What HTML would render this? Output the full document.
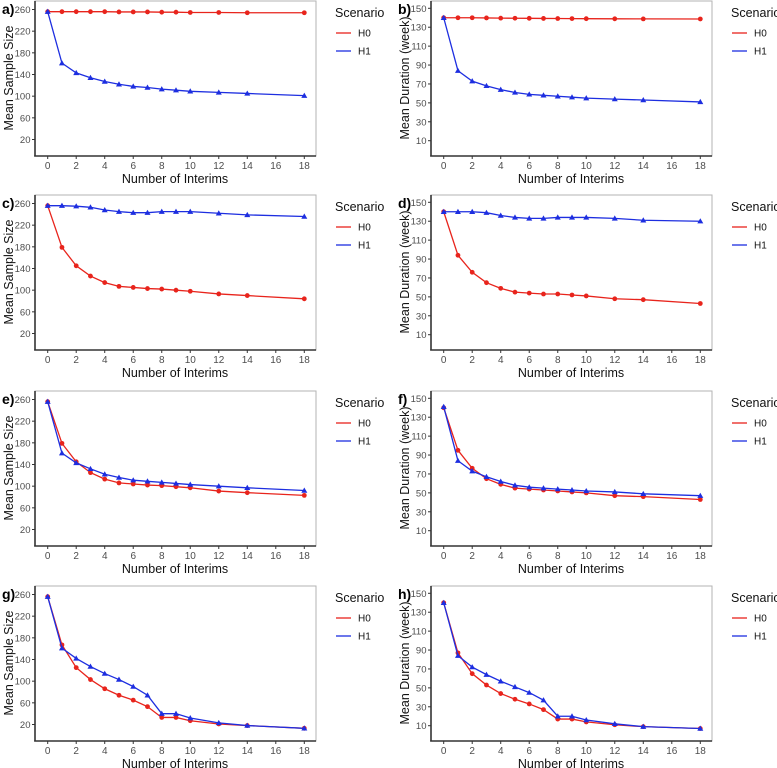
<!DOCTYPE html>
<html><head><meta charset="utf-8"><style>
body{margin:0;background:#fff;}
svg{display:block;font-family:"Liberation Sans",Arial,sans-serif;}
</style></head><body>
<svg id="chart" width="777" height="768"></svg>
<script>
const interims=[0,1,2,3,4,5,6,7,8,9,10,12,14,18];
const xTicks=[0,2,4,6,8,10,12,14,16,18];
const sizeTicks=[20,60,100,140,180,220,260];
const durTicks=[10,30,50,70,90,110,130,150];
const aH0=[256,256,256,256,256,255.5,255.5,255.5,255,255,254.5,254.5,254,254];
const aH1=[256,161,143,134,127,122,118,116,113,111,109,107,105,101];
const bH0=[140,140,140,139.8,139.6,139.5,139.4,139.3,139.2,139.1,139,138.9,138.8,138.7];
const bH1=[140,84,73,68,64,61,59,58,57,56,55,54,53,51];
const cH0=[256,179,145,126,114,107,105,103,102,100,98,93,90,84];
const cH1=[256,256,255,253,248,245,243,243,245,245,245,242,239,236];
const dH0=[140,94,76,65,59,55,54,53,53,52,51,48,47,43];
const dH1=[140,140,140,139,136,134,133,133,134,134,134,133,131,130];
const eH0=[256,179,145,125,113,106,104,102,101,99,97,91,88,83];
const eH1=[256,161,143,132,122,116,111,109,107,105,103,100,97,92];
const fH0=[140,95,76,65,59,55,54,53,52,51,50,47,46,43];
const fH1=[141,84,73,67,62,58,56,55,54,53,52,51,49,47];
const gH0=[256,167,125,103,86,74,65,53,33,33,27,21,18,13];
const gH1=[256,161,142,127,114,103,90,74,40,40,32,23,18,13];
const hH0=[140,87,65,53,44,38,33,27,17,17,14,11,9,7];
const hH1=[140,84,72,64,57,51,45,37,20,20,16,12,9,7];

const NS="http://www.w3.org/2000/svg";
const svg=document.getElementById('chart');
function mk(tag,attrs,parent){const e=document.createElementNS(NS,tag);for(const k in attrs)e.setAttribute(k,attrs[k]);(parent||svg).appendChild(e);return e;}
const RED="#e8241c",BLUE="#1d2ee0";
const panels=[
 {id:'a',h0:aH0,h1:aH1,col:0,row:0,dur:false},
 {id:'b',h0:bH0,h1:bH1,col:1,row:0,dur:true},
 {id:'c',h0:cH0,h1:cH1,col:0,row:1,dur:false},
 {id:'d',h0:dH0,h1:dH1,col:1,row:1,dur:true},
 {id:'e',h0:eH0,h1:eH1,col:0,row:2,dur:false},
 {id:'f',h0:fH0,h1:fH1,col:1,row:2,dur:true},
 {id:'g',h0:gH0,h1:gH1,col:0,row:3,dur:false},
 {id:'h',h0:hH0,h1:hH1,col:1,row:3,dur:true}];
const rowOff=[0,194,390,585];
panels.forEach(p=>{
 const ox=p.col*396, oy=rowOff[p.row];
 const g=mk('g',{transform:`translate(${ox},${oy})`});
 
 
 const x=v=>47.7+v*(304.3-47.7)/18;
 const y=p.dur?(v=>8.3+(150-v)*132.4/140):(v=>9.5+(260-v)*130/240);
 const ticks=p.dur?durTicks:sizeTicks;
 const box=mk('rect',{x:35,y:1,width:281,height:155,fill:'#fff',stroke:'#b3b3b3','stroke-width':1},g);
 
 
 mk('line',{x1:35,y1:1,x2:35,y2:156.5,stroke:'#333','stroke-width':1.6},g);
 mk('line',{x1:34.2,y1:156,x2:316,y2:156,stroke:'#333','stroke-width':1.6},g);
 ticks.forEach(t=>{
  mk('line',{x1:32,x2:35,y1:y(t),y2:y(t),stroke:'#333','stroke-width':1},g);
  const tl=mk('text',{x:30.5,y:y(t)+3.5,'text-anchor':'end','font-size':9.5,fill:'#4d4d4d'},g);
  tl.textContent=t;
  
  
 });
 xTicks.forEach(t=>{
  mk('line',{x1:x(t),x2:x(t),y1:156,y2:159,stroke:'#333','stroke-width':1},g);
  const tl=mk('text',{x:x(t),y:169,'text-anchor':'middle','font-size':10,fill:'#4d4d4d'},g);
  tl.textContent=t;
  
  
 });
 const xt=mk('text',{x:175,y:183,'text-anchor':'middle','font-size':12.5,fill:'#111'},g);
 xt.textContent='Number of Interims';
 
 
 const yt=mk('text',{x:0,y:0,transform:`translate(13,78) rotate(-90)`,'text-anchor':'middle','font-size':12.5,fill:'#111'},g);
 yt.textContent=p.dur?'Mean Duration (week)':'Mean Sample Size';
 
 
 const lab=mk('text',{x:2,y:14,'font-size':14,'font-weight':'bold',fill:'#000'},g);
 lab.textContent=p.id+')';
 
 
 [[p.h0,RED,'h0'],[p.h1,BLUE,'h1']].forEach(([vals,c,nm])=>{
  const pl=mk('polyline',{points:vals.map((v,i)=>x(interims[i])+','+y(v)).join(' '),fill:'none',stroke:c,'stroke-width':1.3},g);
  
  
  vals.forEach((v,i)=>{
   const cx=x(interims[i]),cy=y(v);
   let m;
   if(nm==='h0') m=mk('circle',{cx,cy,r:2.4,fill:c},g);
   else m=mk('polygon',{points:`${cx},${cy-3} ${cx-3},${cy+2.2} ${cx+3},${cy+2.2}`,fill:c},g);
   
   
  });
 });
 const lg=mk('g',{},g);
 
 
 const lt=mk('text',{x:335,y:17,'font-size':12.5,fill:'#111'},lg);
 lt.textContent='Scenario';
 [['H0',RED,33],['H1',BLUE,51]].forEach(([n,c,ly])=>{
  mk('line',{x1:336,x2:351,y1:ly,y2:ly,stroke:c,'stroke-width':1.3},lg);
  const t=mk('text',{x:358,y:ly+3.5,'font-size':10,fill:'#111'},lg);
  t.textContent=n;
  
  
 });
});
</script>
</body></html>
